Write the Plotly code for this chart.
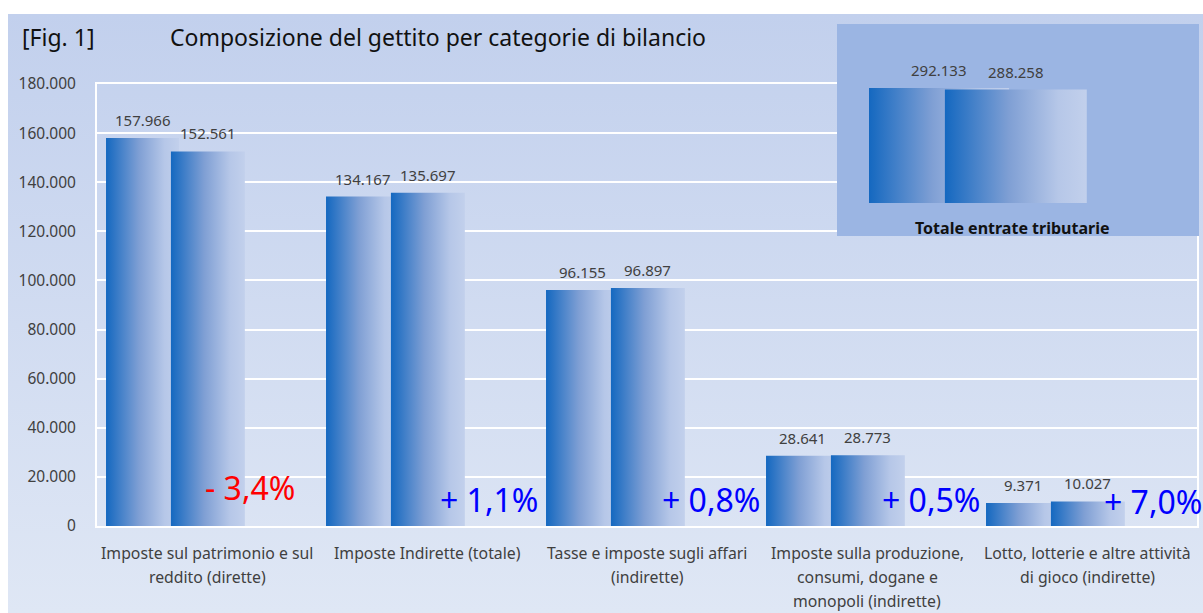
import plotly.graph_objects as go

# ---------------- data ----------------
category_lines = [
    ["Imposte sul patrimonio e sul", "reddito (dirette)"],
    ["Imposte Indirette (totale)"],
    ["Tasse e imposte sugli affari", "(indirette)"],
    ["Imposte sulla produzione,", "consumi, dogane e", "monopoli (indirette)"],
    ["Lotto, lotterie e altre attività", "di gioco (indirette)"],
]
values_prev = [157966, 134167, 96155, 28641, 9371]
values_curr = [152561, 135697, 96897, 28773, 10027]
pct_labels = ["- 3,4%", "+ 1,1%", "+ 0,8%", "+ 0,5%", "+ 7,0%"]
total_label = "Totale entrate tributarie"
total_prev = 292133
total_curr = 288258
y_tick_values = [0, 20000, 40000, 60000, 80000, 100000, 120000, 140000, 160000, 180000]
fig_tag = "[Fig. 1]"
fig_title = "Composizione del gettito per categorie di bilancio"

# ---------------- styling / layout ----------------
W, H = 1203, 613
FONT = "Noto Sans"
TXT = "#404040"
GRAD = [[0.0, "#1468c0"], [0.45, "#7f9fd4"], [0.8, "#b6c7e8"], [1.0, "#c2d0ec"]]
pct_colors = ["#ff0000", "#0000ff", "#0000ff", "#0000ff", "#0000ff"]
pct_dx = [-20, 3, 5, 5, 7]           # px shifts of the % labels
pct_ypx = [487, 499, 499, 499, 501]  # vertical pixel centres of % labels

def px_x(p):
    return p / W

def px_y(p):
    return 1 - p / H

# main plot area in pixels
PL, PR, PT, PB = 97, 1197, 84, 526
# bar slots (fractions of a category)
S1_OFF, S1_W = 0.041, 0.332
S2_OFF, S2_W = 0.336, 0.336
# inset box in pixels
IL, IR, IT, IB = 837, 1199, 24, 236
I1_OFF, I1_W = 0.0884, 0.387
I2_OFF, I2_W = 0.298, 0.392
inset_zero_px, inset_top_px = 203, 88

fig = go.Figure()

# background panel (gradient)
fig.add_trace(go.Scatter(
    x=[px_x(8), 1, 1, px_x(8), px_x(8)], y=[0, 0, px_y(14), px_y(14), 0],
    xaxis="x", yaxis="y", mode="none", fill="toself",
    fillgradient=dict(type="vertical", colorscale=[[0, "#dfe7f5"], [1, "#c2d0ed"]]),
    hoverinfo="skip", showlegend=False))

# main bars
for i in range(len(values_prev)):
    for off, w, v in ((S1_OFF, S1_W, values_prev[i]), (S2_OFF, S2_W, values_curr[i])):
        x0 = i - 0.5 + off
        x1 = x0 + w
        fig.add_trace(go.Scatter(
            x=[x0, x1, x1, x0, x0], y=[0, 0, v, v, 0],
            xaxis="x2", yaxis="y2", mode="none", fill="toself",
            fillgradient=dict(type="horizontal", colorscale=GRAD),
            hoverinfo="skip", showlegend=False))

# inset box
per_px = total_prev / (inset_zero_px - inset_top_px)
iy0 = -(IB - inset_zero_px) * per_px
iy1 = (inset_zero_px - IT) * per_px
fig.add_trace(go.Scatter(
    x=[-0.5, 0.5, 0.5, -0.5, -0.5], y=[iy0, iy0, iy1, iy1, iy0],
    xaxis="x3", yaxis="y3", mode="none", fill="toself", fillcolor="#9bb5e3",
    hoverinfo="skip", showlegend=False))
for off, w, v in ((I1_OFF, I1_W, total_prev), (I2_OFF, I2_W, total_curr)):
    x0 = -0.5 + off
    x1 = x0 + w
    fig.add_trace(go.Scatter(
        x=[x0, x1, x1, x0, x0], y=[0, 0, v, v, 0],
        xaxis="x3", yaxis="y3", mode="none", fill="toself",
        fillgradient=dict(type="horizontal", colorscale=GRAD),
        hoverinfo="skip", showlegend=False))

annotations = []
# value labels
for i in range(len(values_prev)):
    for off, w, v in ((S1_OFF, S1_W, values_prev[i]), (S2_OFF, S2_W, values_curr[i])):
        annotations.append(dict(
            x=i - 0.5 + off + w / 2, y=v, xref="x2", yref="y2",
            text=f"{v:,}".replace(",", "."), showarrow=False,
            yanchor="bottom", yshift=6, font=dict(family=FONT, size=15, color=TXT)))
for off, w, v in ((I1_OFF, I1_W, total_prev), (I2_OFF, I2_W, total_curr)):
    annotations.append(dict(
        x=-0.5 + off + w / 2, y=v, xref="x3", yref="y3",
        text=f"{v:,}".replace(",", "."), showarrow=False,
        yanchor="bottom", yshift=6, font=dict(family=FONT, size=15, color=TXT)))
annotations.append(dict(
    x=-0.014, y=-(228 - inset_zero_px) * per_px, xref="x3", yref="y3",
    text=f"<b>{total_label}</b>", showarrow=False, yanchor="middle",
    font=dict(family=FONT, size=16, color="#111111")))

# percentage labels
for i, t in enumerate(pct_labels):
    annotations.append(dict(
        x=i + 0.5, y=px_y(pct_ypx[i]), xref="x2", yref="paper",
        text=t, showarrow=False, xanchor="right", yanchor="middle", xshift=pct_dx[i],
        font=dict(family=FONT, size=32, color=pct_colors[i])))

# category labels (one annotation per line)
for i, lines in enumerate(category_lines):
    for k, line in enumerate(lines):
        annotations.append(dict(
            x=i, y=px_y(553 + 24 * k), xref="x2", yref="paper",
            text=line, showarrow=False, xanchor="center", yanchor="middle",
            font=dict(family=FONT, size=15.8, color=TXT)))

# titles
annotations.append(dict(x=px_x(20), y=px_y(37), xref="paper", yref="paper", text=fig_tag,
                        showarrow=False, xanchor="left", yanchor="middle",
                        font=dict(family=FONT, size=23, color="#111111")))
annotations.append(dict(x=px_x(168), y=px_y(37), xref="paper", yref="paper", text=fig_title,
                        showarrow=False, xanchor="left", yanchor="middle",
                        font=dict(family=FONT, size=23, color="#111111")))

fig.update_layout(
    width=W, height=H,
    margin=dict(l=0, r=0, t=0, b=0, pad=0, autoexpand=False),
    paper_bgcolor="white", plot_bgcolor="rgba(0,0,0,0)",
    separators=",.",
    showlegend=False,
    annotations=annotations,
    xaxis=dict(domain=[0, 1], range=[0, 1], visible=False, fixedrange=True),
    yaxis=dict(domain=[0, 1], range=[0, 1], visible=False, fixedrange=True),
    xaxis2=dict(domain=[px_x(PL), px_x(PR)], range=[-0.5, len(values_prev) - 0.5], anchor="y2",
                showgrid=False, showticklabels=False, zeroline=False, automargin=False,
                showline=True, linecolor="white", linewidth=2, mirror=True, ticks=""),
    yaxis2=dict(domain=[px_y(PB), px_y(PT)], range=[0, 180000], anchor="x2",
                tickvals=y_tick_values, tickformat=",d", showgrid=True, automargin=False,
                gridcolor="white", gridwidth=1.5, zeroline=False,
                showline=True, linecolor="white", linewidth=2, mirror=True, ticks="",
                ticklabelstandoff=16,
                tickfont=dict(family=FONT, size=15.5, color=TXT)),
    xaxis3=dict(domain=[px_x(IL), px_x(IR)], range=[-0.5, 0.5], anchor="y3", visible=False),
    yaxis3=dict(domain=[px_y(IB), px_y(IT)], range=[iy0, iy1], anchor="x3", visible=False),
)

fig.write_html("out.html", config={"displayModeBar": False},
               post_script="document.body.style.margin='0';")
